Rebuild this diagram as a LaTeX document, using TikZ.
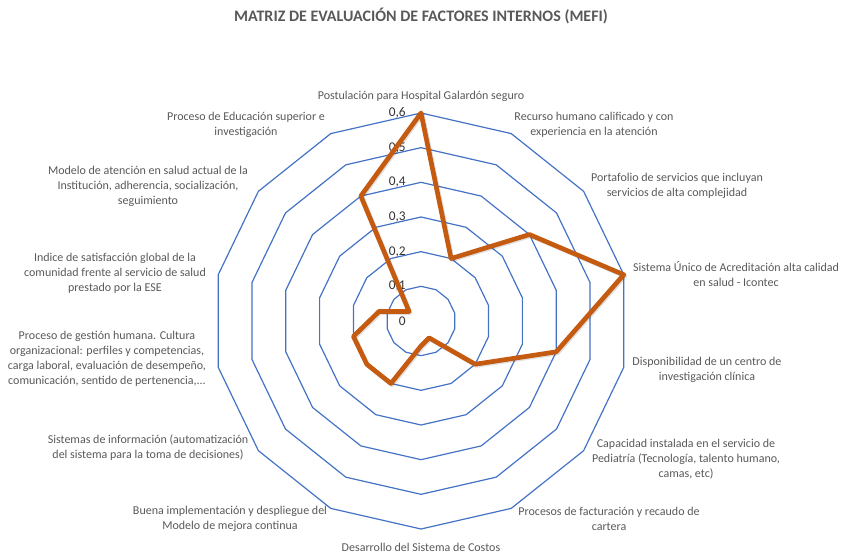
\documentclass[tikz,border=0pt]{standalone}
\usepackage{fontspec}
\setmainfont{Carlito}
\usepackage{tikz}
\usetikzlibrary{positioning}
\definecolor{ringblue}{RGB}{68,114,196}
\definecolor{serieorange}{RGB}{197,90,17}
\definecolor{labelgray}{RGB}{89,89,89}
\tikzset{
  ring/.style={draw=ringblue,line width=0.9pt,line join=round},
  serie/.style={draw=serieorange,line width=3.5pt,line join=round},
  factor/.style={text=labelgray,font=\fontsize{9}{11.25}\selectfont,align=center,inner sep=0pt},
  tick/.style={text=black!80,font=\fontsize{10}{12}\selectfont,anchor=east,inner sep=0pt}
}

\begin{document}
\begin{tikzpicture}[x=0.75pt,y=0.75pt]
        \useasboundingbox (-421,-238) rectangle (420,321);
        \node[text=labelgray,font=\bfseries\fontsize{12}{14}\selectfont] (titulo) at (0,305)
            {MATRIZ DE EVALUACIÓN DE FACTORES INTERNOS (MEFI)};
        \foreach \k in {1,...,6}
            \draw[ring] (90:{\k*208/6}) \foreach \i in {1,...,13}{ -- ({90-\i*360/14}:{\k*208/6}) } -- cycle;
        \foreach \k/\t in {0/0,1/{0,1},2/{0,2},3/{0,3},4/{0,4},5/{0,5},6/{0,6}}
            \node[tick] (eje\k) at (-15,{\k*208/6}) {\t};
        \foreach \v [count=\i] in {0.6,0.2,0.4,0.6,0.4,0.2,0.054,0.072,0.2,0.2,0.2,0.124,0.044,0.4}
            \coordinate (d\i) at ({90-(\i-1)*360/14}:{\v*208/0.6});
        \draw[serie,draw=black,opacity=0.12,transform canvas={shift={(1.2,-1.2)}}]
            (d1) -- (d2) -- (d3) -- (d4) -- (d5) -- (d6) -- (d7) -- (d8) -- (d9) -- (d10) -- (d11) -- (d12) -- (d13) -- (d14) -- cycle;
        \draw[serie]
            (d1) -- (d2) -- (d3) -- (d4) -- (d5) -- (d6) -- (d7) -- (d8) -- (d9) -- (d10) -- (d11) -- (d12) -- (d13) -- (d14) -- cycle;
        \node[factor] (f1) at (0,225) {Postulación para Hospital Galardón seguro};
        \node[factor] (f2) at (173,196) {Recurso humano calificado y con\\experiencia en la atención};
        \node[factor] (f3) at (256,135) {Portafolio de servicios que incluyan\\servicios de alta complejidad};
        \node[factor] (f4) at (315,47) {Sistema Único de Acreditación alta calidad\\en salud - Icontec};
        \node[factor] (f5) at (286,-49) {Disponibilidad de un centro de\\investigación clínica};
        \node[factor] (f6) at (265,-138) {Capacidad instalada en el servicio de\\Pediatría (Tecnología, talento humano,\\camas, etc)};
        \node[factor] (f7) at (188,-198) {Procesos de facturación y recaudo de\\cartera};
        \node[factor] (f8) at (0,-226) {Desarrollo del Sistema de Costos};
        \node[factor] (f9) at (-191,-198) {Buena implementación y despliegue del\\Modelo de mejora continua};
        \node[factor] (f10) at (-273,-127) {Sistemas de información (automatización\\del sistema para la toma de decisiones)};
        \node[factor] (f11) at (-314,-38) {Proceso de gestión humana. Cultura\\organizacional: perfiles y competencias,\\carga laboral, evaluación de desempeño,\\comunicación, sentido de pertenencia,...};
        \node[factor] (f12) at (-306,48) {Indice de satisfacción global de la\\comunidad frente al servicio de salud\\prestado por la ESE};
        \node[factor] (f13) at (-273,135) {Modelo de atención en salud actual de la\\Institución, adherencia, socialización,\\seguimiento};
        \node[factor] (f14) at (-175,196) {Proceso de Educación superior e\\investigación};
\end{tikzpicture}
\end{document}
